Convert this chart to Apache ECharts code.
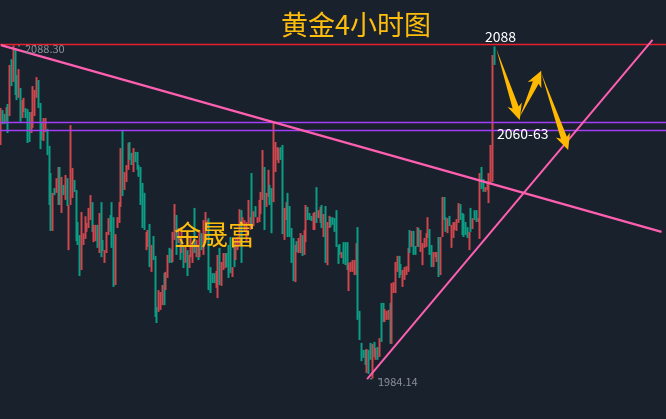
<!DOCTYPE html>
<html><head><meta charset="utf-8">
<style>html,body{margin:0;padding:0;background:#19212d}#c{width:666px;height:419px}</style>
<script src="https://cdn.jsdelivr.net/npm/echarts@6/dist/echarts.min.js"></script>
</head><body><div id="c"></div>
<script>
const opens=[2059,2067.5,2066.5,2064.5,2069,2068,2083,2078,2086,2078,
2073,2074,2066.5,2068,2068,2067.5,2066.5,2062,2064,2067.5,
2073,2076.5,2069,2063.5,2059.5,2062,2061,2055,2046,2032,
2043.2,2043,2040,2049,2037.5,2044,2041,2046,2026,2040,
2042,2045.5,2041.5,2032,2028,2020.5,2026.5,2029,2030.5,2032,
2035,2038,2028,2028,2031,2025,2037.5,2027,2021,2024.5,
2030,2034.5,2037.5,2032,2015,2032,2034,2039.5,2058,2044,
2046.5,2050.5,2057.5,2054,2050,2054.5,2054,2050,2049,2044,
2041,2025.5,2026.5,2031,2019,2028,2021,2005.5,2006,2006.5,
2008,2016,2012.5,2017,2024,2024,2022,2029,2034,2027.5,
2027.5,2024.5,2024.5,2021,2023.5,2019.5,2023,2021,2036,2023,
2025,2023,2029,2024,2027.5,2031.8,2032,2018,2016.5,2016.5,
2013.5,2011,2024,2014,2019,2019.5,2022.5,2025,2027.5,2016.5,
2026,2022,2025,2027,2035.5,2032.8,2030.8,2028,2033.5,2031.5,
2047,2032.5,2037.5,2033.2,2034,2036.5,2041.5,2048.5,2038.5,2042,
2044,2042.5,2041,2050,2053,2052.5,2056,2055,2029,2034.5,
2041,2037,2030,2026.5,2016,2026.5,2024,2024.5,2028,2024,
2028,2037,2035.5,2034.5,2031.5,2031.5,2043,2034.8,2033.5,2037.5,
2029.5,2036.5,2021,2032,2034,2034,2033.5,2035.8,2025,2025.5,
2022.2,2026,2026,2026,2012.8,2018,2018,2017.3,2017.5,2029.5,
2004.3,1994.5,1992.6,1992.4,1987,1992.2,1994.5,1985.5,1994.8,1990.6,
1993.3,1991.8,2006.5,2007,2002.5,2003,2003,2006.5,1997,2011.5,
2012,2018.3,2021.5,2019.4,2013.7,2015.6,2017,2018.5,2029.8,2026,
2029.4,2025,2026,2030.4,2024.7,2020.6,2025.5,2026,2029,2030,
2025,2019.8,2022.5,2021.2,2027.2,2018,2030,2040,2034,2030.4,
2034.4,2026,2029,2031.2,2031,2033.8,2038,2035,2034.7,2032.4,
2031,2025,2036.6,2031.5,2036.2,2036.2,2033.4,2029.5,2049.5,2046,
2042.9,2043.6,2040.2,2046.5,2048,2087.5];
const closes=[2067.5,2064.5,2064,2068,2062,2080,2077,2086,2074,2072,
2080,2066,2070.5,2071,2066,2059,2059.5,2066.5,2074.5,2073.5,
2077.5,2070,2058,2059.5,2064.5,2065,2055.5,2040,2033,2041,
2042,2046,2049,2040,2046,2042,2047,2039,2037,2061,
2049,2043,2029,2027,2018,2034.5,2029,2034,2032,2036.5,
2040.5,2031.5,2031.5,2031.5,2026,2034.5,2024,2024.5,2023.5,2029,
2033.5,2031,2026.5,2015,2027.5,2034,2038.5,2054,2043,2048,
2050,2057,2053.5,2051.5,2055.5,2052.5,2050.5,2048,2040,2033,
2032,2029,2030,2021,2025,2022.5,2005.5,2002.5,2011,2010,
2012.5,2008.5,2016.5,2022,2021,2021,2029,2037.5,2024,2030.5,
2022.5,2030.5,2020,2024.5,2017.5,2022,2027.5,2025.5,2025,2026.5,
2022,2029.5,2025,2032.5,2035,2033,2014,2012,2014.5,2014.5,
2017,2021.5,2015,2020,2022.5,2022.5,2020,2017,2018.5,2018.5,
2020,2027,2027.5,2036,2022,2034,2033,2032,2039,2034,
2033.5,2035.5,2035.2,2034.2,2039,2041.5,2054,2032.5,2041.5,2048.5,
2039.5,2031,2062,2057,2056,2055.5,2053,2032,2036,2038.5,
2030,2030,2021.5,2016,2024.5,2024.2,2027.5,2029,2023.5,2029.5,
2037,2034.5,2034,2033.8,2035,2035.5,2034,2036.2,2037,2032,
2034.8,2022,2032,2034.2,2032,2032.8,2030.8,2026.5,2021,2023.3,
2023.2,2021,2020.5,2019,2019.3,2020,2020.5,2020.5,2025.5,2005,
1997.3,1990.5,1991,1989.3,1992.6,1986.8,1990.8,1994,1991.7,1993,
1990.6,1996,1997,2002.8,2005,2004.7,2005,1996.5,2012,2013.6,
2019.5,2021.7,2016.6,2017,2017.3,2018.4,2018.8,2024.2,2024.5,2029.5,
2024,2023.3,2030.7,2026.2,2029.7,2025.6,2027.5,2029,2033.8,2024,
2020,2023,2023.2,2023,2017.2,2027,2039.5,2034.8,2030.8,2033.6,
2032.4,2031.3,2032.4,2032.6,2033.4,2038.2,2034.5,2030,2029.5,2029.7,
2028.7,2029.2,2031,2033.7,2034.3,2033.8,2034,2046.5,2044.3,2043.2,
2043.5,2045.2,2047.2,2056,2083,2083];
const lows=[2057.2,2063.7,2063.7,2064,2060.9,2066.2,2075.6,2076.9,2072.8,2071.2,
2071.9,2064.4,2065.6,2067.5,2065.6,2057.8,2058.1,2060.9,2062.5,2066.2,
2071.9,2068.7,2055.9,2058.7,2058.4,2061.2,2054,2038.4,2030.3,2030.3,
2041.5,2042.2,2038.4,2038.4,2035.9,2041.5,2040,2038.1,2024.3,2038.4,
2040.6,2042.5,2027.1,2025.9,2016.2,2018.1,2025.9,2027.8,2030,2031.2,
2033.7,2030,2026.8,2027.1,2025,2023.4,2022.1,2024,2020.3,2023.4,
2029,2030,2025,2012.8,2013.4,2031.2,2032.8,2037.8,2041.2,2043.1,
2045.6,2049.4,2052.5,2050.9,2048.7,2051.8,2049.4,2047.2,2038.4,2031.2,
2030.6,2024.3,2025.3,2019,2017.5,2021.2,2003.4,2001.5,2005,2005.6,
2007.1,2007.1,2011.8,2015.6,2020.3,2020.3,2020.6,2027.5,2022.8,2026.5,
2021.2,2023.4,2018.7,2020.3,2016.2,2018.7,2022.1,2020.3,2023.4,2022.1,
2021.2,2022.1,2024.3,2022.8,2026.5,2031.2,2011.8,2010.9,2014,2014,
2012.5,2009.3,2013.4,2013.1,2018.1,2018.7,2019,2015.6,2017.1,2015.9,
2019,2021.2,2024.3,2025.9,2020.3,2032.2,2030,2026.8,2032.2,2030.6,
2032.2,2031.8,2034.6,2032.8,2033.1,2035.6,2040,2030.6,2037.8,2040.9,
2038.4,2029.6,2039.3,2048.7,2052.5,2051.5,2052.5,2029.3,2027.5,2033.7,
2028.4,2028.4,2020.3,2014.6,2014.3,2023.7,2023.4,2023.4,2022.5,2022.8,
2026.8,2033.7,2033.7,2033.4,2030.6,2030.6,2032.8,2034.3,2032.8,2031.2,
2028.4,2020.3,2019.6,2031.2,2031.5,2032.2,2030,2025.3,2020,2022.8,
2021.8,2020,2019.6,2018.1,2011.5,2017.5,2017.5,2016.5,2016.5,2002.5,
1996.2,1989.6,1990.6,1988.4,1985.9,1985.6,1990,1984.14,1990.9,1990,
1990,1990.9,1995.6,2001.8,2001.8,2002.5,2002.5,1995,1995,2010.9,
2010.9,2017.5,2015.6,2016.5,2012.8,2015,2016.5,2017.5,2023.4,2025.3,
2022.8,2022.8,2025.3,2025.3,2023.7,2019.6,2025,2025.3,2028.1,2022.8,
2019,2019,2022.1,2020.6,2015.9,2016.5,2028.4,2033.7,2030,2029.6,
2031.8,2025,2028.1,2030.6,2030.3,2032.8,2033.7,2029,2028.4,2029,
2028.1,2024.3,2030,2030.9,2033.7,2033.1,2033.1,2027.8,2043.4,2042.5,
2042.5,2043.1,2039,2045.3,2045.6,2082.2];
const highs=[2068.7,2068.1,2066.9,2069,2070,2082.2,2084,2088.3,2087.5,2079,
2080.9,2075,2071.2,2071.9,2068.7,2068.4,2067.5,2067.5,2075.6,2074.4,
2078.4,2077.5,2070.3,2064.4,2065.6,2065.6,2062.2,2056.9,2048.4,2042.2,
2043.7,2046.8,2050.3,2050.3,2047.2,2044.7,2047.8,2046.8,2038.4,2063.4,
2050,2046.2,2043.1,2033.1,2029,2036.2,2029.6,2034.9,2032.8,2037.5,
2041.5,2039.3,2032.2,2032.2,2032.2,2035.9,2039.3,2027.5,2024.3,2030,
2034.3,2035.3,2039.3,2034.6,2029.3,2034.6,2039.3,2056.2,2061.9,2048.7,
2050.9,2057.8,2058.1,2054.7,2056.2,2055,2055,2050.9,2050.3,2045.3,
2042.2,2030,2030.6,2032.5,2025.9,2028.7,2022.5,2006.5,2011.8,2011.2,
2013.4,2017.2,2017.5,2022.8,2025,2024.6,2030,2038.7,2035.3,2031.2,
2028.4,2031.5,2025.3,2025.3,2024.3,2022.8,2028.4,2026.5,2037.5,2027.5,
2025.9,2030.6,2029.6,2033.7,2036.2,2033.7,2034.3,2019,2017.1,2017.1,
2017.8,2022.8,2025,2020.6,2023.4,2023.4,2023.4,2025.9,2028.4,2019,
2026.8,2028.1,2028.4,2037.1,2036.8,2034.6,2033.7,2033.1,2040,2034.6,
2048.4,2036.5,2038.1,2034.6,2040,2042.5,2055.6,2050.3,2042.2,2049.4,
2044.7,2043.7,2064.4,2058.1,2056.5,2056.2,2056.5,2057.2,2037.5,2039.3,
2042.2,2038.1,2031.2,2028.1,2025.9,2027.1,2028.1,2029.6,2029,2030.6,
2038.4,2037.8,2035.9,2035,2035.9,2036.2,2044,2036.8,2037.8,2038.4,
2035.6,2038.1,2033.1,2035,2034.6,2034.6,2034.3,2036.8,2025.9,2026.2,
2023.7,2026.8,2026.8,2026.8,2020.3,2020.6,2021.2,2021.2,2026.5,2031.5,
2005.3,1995.3,1993.1,1993.1,1993.4,1993.1,1995.3,1995,1995.6,1993.7,
1994,1996.8,2007.8,2007.8,2005.9,2005.3,2005.6,2007.8,2014,2014.3,
2020.6,2022.5,2022.5,2020,2018.1,2019,2019.3,2025,2030.6,2030.3,
2030.3,2025.6,2031.5,2031.2,2030.6,2026.5,2028.1,2029.6,2034.6,2030.9,
2025.9,2023.7,2023.7,2023.7,2028.4,2028.4,2040.9,2040.9,2034.6,2034.3,
2035,2032.2,2033.1,2033.1,2034,2039,2038.7,2035.9,2035.6,2033.1,
2031.5,2030,2037.5,2034.3,2036.8,2036.8,2034.3,2048.4,2050.3,2046.5,
2044,2045.6,2048.4,2057.2,2085.3,2088];

// Reference levels and drawn lines, in bar index / price terms
const resistanceLevel=2088.6;
const supportBand=[2064.3,2061.9];
const fallingTrend=[[0,2088.4],[368,2030]];
const risingTrend=[[204,1984],[363,2090]];
const forecastArrows=[[276,2087.2,289,2065],[289,2065.9,301,2080.4],[301,2079.7,316,2055.6]];
const SLOTS=371;
const categories=Array.from({length:SLOTS},(_,i)=>String(i+1));
const candles=opens.map((o,i)=>[o,closes[i],lows[i],highs[i]]);

function arrow(params,api){
  const a=api.coord([api.value(0),api.value(1)]), b=api.coord([api.value(2),api.value(3)]);
  const dx=b[0]-a[0],dy=b[1]-a[1],len=Math.hypot(dx,dy),ux=dx/len,uy=dy/len,nx=-uy,ny=ux;
  const at=(d,w)=>[a[0]+ux*d+nx*w,a[1]+uy*d+ny*w];
  const neck=len-13, back=len-16;
  return {type:'polygon',shape:{points:[a,at(neck,3.2),at(back,7.5),b,at(back,-7.5),at(neck,-3.2)]},
    style:{fill:'#ffb900'}};
}
const chart=echarts.init(document.getElementById('c'),null,{renderer:'canvas'});
const label=(text,x,y,size,color,extra)=>({type:'text',x,y,silent:true,z:50,
  style:Object.assign({text,fill:color,fontSize:size,fontFamily:'"Noto Sans CJK SC","Noto Sans",sans-serif',textVerticalAlign:'middle'},extra||{})});
chart.setOption({
  animation:false,backgroundColor:'#19212d',
  grid:{left:0,right:0,top:0,bottom:0},
  xAxis:{type:'category',data:categories,show:false,boundaryGap:true},
  yAxis:{type:'value',min:1971.5,max:2102.5,show:false,scale:true,splitLine:{show:false}},
  series:[
   {type:'candlestick',data:candles,barWidth:1,
    itemStyle:{color:'#cf464d',color0:'#0d9c84',borderColor:'#cf464d',borderColor0:'#0d9c84',borderWidth:2},
    markLine:{silent:true,symbol:'none',animation:false,label:{show:false},
      data:[
       {yAxis:resistanceLevel,lineStyle:{color:'#e8202c',width:1.4,type:'solid'}},
       {yAxis:supportBand[0],lineStyle:{color:'#a53ff5',width:1.4,type:'solid'}},
       {yAxis:supportBand[1],lineStyle:{color:'#a53ff5',width:1.4,type:'solid'}},
       [{coord:fallingTrend[0],lineStyle:{color:'#ff5fb0',width:2.2,type:'solid'}},{coord:fallingTrend[1]}],
       [{coord:risingTrend[0],lineStyle:{color:'#ff5fb0',width:2,type:'solid'}},{coord:risingTrend[1]}]
      ]}},
   {type:'custom',renderItem:arrow,data:forecastArrows,z:10,encode:{x:[0,2],y:[1,3]},silent:true}
  ],
  graphic:[
   label('黄金4小时图',281,25,27,'#fdbd0d'),
   label('金晟富',174,235,27,'#fdbd0d'),
   label('2088',485,37,14,'#ffffff'),
   label('2060-63',497,134,14,'#ffffff'),
   label('···',15,46,8,'#8a9099'),
   label('2088.30',25,49,11,'#8a9099'),
   label('···',367,379,8,'#8a9099'),
   label('1984.14',378,382,11,'#8a9099')
  ]
});
</script></body></html>
